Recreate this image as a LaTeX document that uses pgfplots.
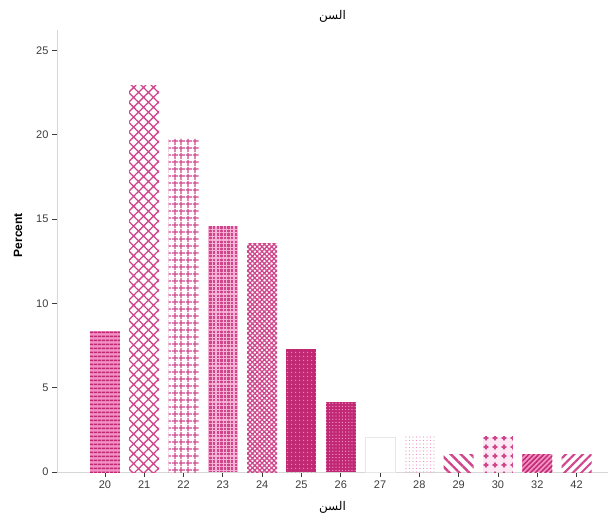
\documentclass[border=0pt]{standalone}
\usepackage{fontspec}
\setmainfont{Liberation Sans}
\newfontfamily\arabicfont[Script=Arabic]{DejaVu Sans}
\TeXXeTstate=1
\usepackage{pgfplots}
\pgfplotsset{compat=1.18}
\usetikzlibrary{patterns.meta}
\definecolor{pdark}{RGB}{192,40,115}
\definecolor{pmid}{RGB}{208,70,140}
\definecolor{plight}{RGB}{242,145,195}
\definecolor{axgray}{RGB}{215,215,215}
\definecolor{tickgray}{RGB}{60,60,60}
\begin{document}
\begin{tikzpicture}
\begin{axis}[
  scale only axis,
  width=551pt, height=442pt,
  xmin=-1.22, xmax=12.8,
  ymin=0, ymax=26.2,
  axis lines*=left,
  axis line style={draw=axgray, line width=0.8pt},
  ybar, bar width=30pt, bar shift=0pt,
  xtick={0,1,2,3,4,5,6,7,8,9,10,11,12},
  xticklabels={20,21,22,23,24,25,26,27,28,29,30,32,42},
  ytick={0,5,10,15,20,25},
  tick align=outside,
  major tick length=5pt,
  tick style={draw=tickgray, line width=0.8pt},
  xtick style={draw=tickgray},
  ticklabel style={font=\fontsize{11}{13}\selectfont, text=tickgray},
  /pgf/number format/assume math mode=true,
  title={\arabicfont\beginR السن\endR},
  title style={font=\fontsize{12}{14}\selectfont, yshift=-2pt},
  xlabel={\arabicfont\beginR السن\endR},
  xlabel style={font=\fontsize{12}{14}\selectfont, yshift=-6pt},
  ylabel={\textbf{Percent}},
  ylabel style={font=\fontsize{12}{14}\selectfont, at={(axis description cs:-0.0708,0.536)}, anchor=center},
  every axis plot/.append style={draw=none},
]
% 20
\addplot[fill=plight, postaction={pattern={Lines[angle=0,distance=4pt,line width=1.7pt]}, pattern color=pdark}] coordinates {(0,8.33)};
% 21
\addplot[fill=white, postaction={pattern={Hatch[angle=45,distance=7pt,line width=1.3pt]}, pattern color=pmid}] coordinates {(1,22.92)};
% 22
\addplot[fill=white, postaction={pattern={Lines[angle=0,distance=6.5pt,line width=1.3pt]}, pattern color=pmid}, postaction={pattern={Lines[angle=90,distance=6.5pt,line width=1.3pt]}, pattern color=pmid}] coordinates {(2,19.79)};
% 23
\addplot[fill=pmid, postaction={pattern={Hatch[angle=0,distance=3.6pt,line width=1.1pt]}, pattern color=plight!70}] coordinates {(3,14.58)};
% 24
\addplot[fill=white, postaction={pattern={Hatch[angle=45,distance=3.4pt,line width=1.3pt]}, pattern color=pmid}] coordinates {(4,13.54)};
% 25
\addplot[fill=pdark, postaction={pattern={Dots[distance=4pt,radius=0.8pt]}, pattern color=plight}] coordinates {(5,7.29)};
% 26
\addplot[fill=pdark, postaction={pattern={Dots[distance=3.2pt,radius=0.7pt]}, pattern color=plight}] coordinates {(6,4.17)};
% 27
\addplot[fill=white, draw=axgray!60, line width=0.3pt] coordinates {(7,2.08)};
% 28
\addplot[fill=white, postaction={pattern={Dots[distance=3.5pt,radius=0.6pt]}, pattern color=plight}] coordinates {(8,2.08)};
% 29
\addplot[fill=white, postaction={pattern={Lines[angle=-45,distance=7pt,line width=2.4pt]}, pattern color=pmid}] coordinates {(9,1.04)};
% 30
\addplot[fill=plight!20, postaction={pattern={Stars[distance=9pt,radius=3.2pt,points=4]}, pattern color=pmid}] coordinates {(10,2.08)};
% 32
\addplot[fill=plight, postaction={pattern={Lines[angle=45,distance=3.5pt,line width=1.5pt]}, pattern color=pdark}] coordinates {(11,1.04)};
% 42
\addplot[fill=white, postaction={pattern={Lines[angle=45,distance=6pt,line width=2pt]}, pattern color=pmid}] coordinates {(12,1.04)};
\end{axis}
\path (current axis.south west) ++(-57pt,-56pt) rectangle ++(614pt,528pt);
\end{tikzpicture}
\end{document}
